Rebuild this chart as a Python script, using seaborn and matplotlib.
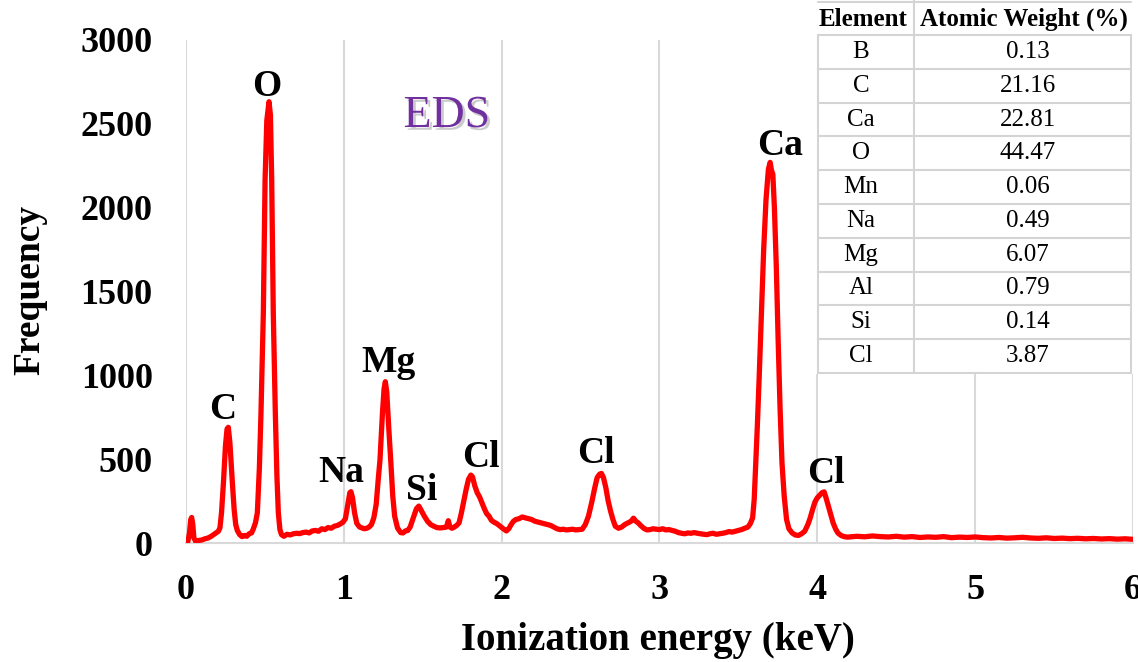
import numpy as np
import pandas as pd
import matplotlib
matplotlib.use("Agg")
import matplotlib.pyplot as plt
import matplotlib.patheffects as pe
import seaborn as sns

# ---------------- data ----------------
energy_kev = [
    0.000, 0.012, 0.022, 0.030, 0.036, 0.043, 0.050, 0.060, 0.080, 0.100,
    0.120, 0.140, 0.160, 0.175, 0.190, 0.205, 0.215, 0.225, 0.237, 0.250,
    0.260, 0.268, 0.278, 0.294, 0.305, 0.315, 0.325, 0.340, 0.355, 0.370,
    0.385, 0.400, 0.415, 0.425, 0.440, 0.452, 0.465, 0.475, 0.490, 0.501,
    0.512, 0.526, 0.535, 0.543, 0.553, 0.566, 0.576, 0.585, 0.595, 0.605,
    0.620, 0.640, 0.660, 0.680, 0.700, 0.720, 0.740, 0.760, 0.780, 0.800,
    0.820, 0.840, 0.860, 0.880, 0.900, 0.920, 0.940, 0.960, 0.980, 0.995,
    1.010, 1.025, 1.038, 1.045, 1.055, 1.068, 1.082, 1.100, 1.115, 1.130,
    1.145, 1.160, 1.175, 1.190, 1.205, 1.218, 1.229, 1.245, 1.255, 1.263,
    1.272, 1.285, 1.297, 1.310, 1.322, 1.340, 1.360, 1.375, 1.390, 1.405,
    1.420, 1.440, 1.460, 1.475, 1.490, 1.510, 1.530, 1.550, 1.570, 1.590,
    1.610, 1.630, 1.650, 1.662, 1.672, 1.685, 1.700, 1.715, 1.730, 1.745,
    1.760, 1.775, 1.790, 1.805, 1.815, 1.830, 1.845, 1.860, 1.875, 1.890,
    1.905, 1.920, 1.935, 1.950, 1.970, 1.990, 2.010, 2.030, 2.045, 2.060,
    2.075, 2.090, 2.110, 2.130, 2.150, 2.170, 2.190, 2.210, 2.230, 2.250,
    2.270, 2.290, 2.310, 2.330, 2.350, 2.370, 2.390, 2.410, 2.430, 2.450,
    2.470, 2.490, 2.510, 2.530, 2.550, 2.570, 2.590, 2.605, 2.620, 2.632,
    2.645, 2.660, 2.675, 2.690, 2.705, 2.720, 2.740, 2.760, 2.780, 2.800,
    2.820, 2.835, 2.850, 2.865, 2.880, 2.900, 2.920, 2.940, 2.960, 2.980,
    3.000, 3.020, 3.040, 3.060, 3.080, 3.100, 3.120, 3.140, 3.160, 3.180,
    3.200, 3.220, 3.240, 3.260, 3.280, 3.300, 3.320, 3.340, 3.360, 3.380,
    3.400, 3.420, 3.440, 3.460, 3.480, 3.500, 3.520, 3.540, 3.560, 3.575,
    3.590, 3.600, 3.610, 3.620, 3.632, 3.645, 3.660, 3.675, 3.690, 3.701,
    3.710, 3.718, 3.728, 3.740, 3.752, 3.764, 3.776, 3.790, 3.805, 3.820,
    3.840, 3.860, 3.880, 3.900, 3.920, 3.940, 3.955, 3.970, 3.985, 4.000,
    4.015, 4.030, 4.043, 4.055, 4.070, 4.085, 4.100, 4.115, 4.130, 4.150,
    4.170, 4.190, 4.250, 4.300, 4.350, 4.400, 4.450, 4.500, 4.550, 4.600,
    4.650, 4.700, 4.750, 4.800, 4.850, 4.900, 4.950, 5.000, 5.050, 5.100,
    5.150, 5.200, 5.250, 5.300, 5.350, 5.400, 5.450, 5.500, 5.550, 5.600,
    5.650, 5.700, 5.750, 5.800, 5.850, 5.900, 5.950, 6.000,
]
frequency = [
    5, 10, 60, 140, 152, 110, 30, 12, 15, 18,
    25, 30, 40, 50, 60, 70, 90, 180, 356, 580,
    680, 690, 600, 356, 200, 110, 75, 50, 38, 45,
    40, 55, 60, 80, 120, 180, 450, 773, 1371, 2165,
    2520, 2632, 2550, 2165, 1371, 773, 400, 180, 80, 50,
    40, 52, 48, 55, 58, 56, 62, 65, 60, 72,
    75, 70, 85, 80, 92, 88, 100, 105, 115, 125,
    145, 230, 300, 306, 270, 180, 117, 95, 90, 85,
    88, 95, 110, 150, 230, 380, 495, 780, 920, 962,
    900, 680, 495, 280, 160, 90, 62, 60, 72, 75,
    95, 150, 205, 220, 195, 160, 130, 110, 100, 92,
    90, 92, 95, 133, 95, 88, 95, 105, 120, 180,
    250, 320, 380, 405, 395, 340, 300, 275, 240, 205,
    175, 160, 135, 125, 115, 100, 85, 72, 85, 110,
    130, 140, 145, 155, 150, 145, 140, 130, 125, 120,
    115, 110, 105, 95, 85, 80, 82, 78, 80, 82,
    78, 80, 82, 110, 160, 240, 330, 390, 410, 415,
    390, 330, 250, 190, 140, 100, 88, 95, 110, 120,
    130, 148, 130, 120, 105, 88, 78, 80, 85, 82,
    80, 85, 78, 80, 75, 70, 62, 58, 55, 60,
    58, 62, 58, 55, 52, 50, 55, 58, 52, 55,
    58, 62, 68, 65, 70, 75, 80, 88, 95, 115,
    150, 260, 480, 700, 1000, 1350, 1750, 2050, 2230, 2270,
    2220, 2200, 2000, 1650, 1200, 800, 480, 280, 140, 85,
    60, 48, 45, 55, 70, 110, 150, 200, 245, 270,
    285, 300, 305, 270, 220, 170, 120, 85, 60, 45,
    38, 35, 40, 37, 42, 38, 36, 40, 35, 38,
    33, 36, 34, 38, 32, 35, 33, 36, 32, 30,
    33, 29, 31, 34, 30, 28, 31, 27, 29, 26,
    28, 25, 27, 24, 26, 23, 25, 22,
]

peak_labels = ["C", "O", "Na", "Mg", "Si", "Cl", "Cl", "Ca", "Cl"]
peak_label_x = [0.234, 0.513, 0.982, 1.280, 1.496, 1.869, 2.598, 3.764, 4.056]
peak_label_y = [739, 2665, 364, 1020, 256, 453, 477, 2314, 358]

x_ticks = [0, 1, 2, 3, 4, 5, 6]
y_ticks = [0, 500, 1000, 1500, 2000, 2500, 3000]

table_elements = ["B", "C", "Ca", "O", "Mn", "Na", "Mg", "Al", "Si", "Cl"]
table_weights = ["0.13", "21.16", "22.81", "44.47", "0.06", "0.49", "6.07", "0.79", "0.14", "3.87"]

# ---------------- figure ----------------
sns.set_theme(style="white")
plt.rcParams["font.family"] = ["Liberation Serif", "DejaVu Serif"]

W, H = 1138, 662
fig = plt.figure(figsize=(W / 100, H / 100), dpi=100)
ax = fig.add_axes([186 / W, 1 - 543 / H, (1133 - 186) / W, (543 - 40) / H])

df = pd.DataFrame({"energy": energy_kev, "frequency": frequency})
sns.lineplot(data=df, x="energy", y="frequency", color="#FF0000", linewidth=3.8,
             ax=ax, zorder=3)

ax.set_xlim(0, 6)
ax.set_ylim(0, 3000)
ax.set_xticks(x_ticks)
ax.set_yticks(y_ticks)
ax.set_xticklabels([str(t) for t in x_ticks])
ax.set_yticklabels([str(t) for t in y_ticks])
for lab in ax.get_xticklabels() + ax.get_yticklabels():
    lab.set_fontweight("bold")
    lab.set_fontsize(26)
    lab.set_color("black")
ax.tick_params(axis="both", length=0)
ax.tick_params(axis="x", pad=22)
ax.tick_params(axis="y", pad=24)
ax.grid(axis="x", color="#d9d9d9", linewidth=1.5, zorder=0)
ax.grid(axis="y", visible=False)
for s in ["top", "left", "right"]:
    ax.spines[s].set_visible(False)
ax.spines["bottom"].set_color("#d9d9d9")
ax.spines["bottom"].set_linewidth(1.5)
ax.set_facecolor("white")

ax.set_xlabel("Ionization energy (keV)", fontsize=28, fontweight="bold", color="black")
ax.set_ylabel("Frequency", fontsize=27, fontweight="bold", color="black")
ax.xaxis.set_label_coords(0.498, -0.193)
ax.xaxis.label.set_va("center")
ax.yaxis.set_label_coords(-0.1647, 0.503)
ax.yaxis.label.set_va("center")

for name, px, py in zip(peak_labels, peak_label_x, peak_label_y):
    ax.text(px, py, name, ha="center", va="baseline", fontsize=27,
            fontweight="bold", color="black", zorder=4)

ax.text(1.654, 2481, "EDS", ha="center", va="baseline", fontsize=33,
        color="#7030A0", zorder=4,
        path_effects=[pe.withSimplePatchShadow(offset=(2, -2), shadow_rgbFace="#999999", alpha=0.5)])

# ---------------- table overlay ----------------
tx0, tx1, ty1 = 815, 1138, 374
tax = fig.add_axes([tx0 / W, 1 - ty1 / H, (tx1 - tx0) / W, ty1 / H])
tax.set_xlim(tx0, tx1)
tax.set_ylim(ty1, 0)
tax.axis("off")
tax.add_patch(plt.Rectangle((tx0, 0), tx1 - tx0, ty1, facecolor="white",
                            edgecolor="none", zorder=0))
lc = "#d4d4d4"
lw = 1.5
left, mid, right = 818, 914, 1131
header_bottom = 35
row_h = 33.8
tax.plot([left, right], [2, 2], color=lc, lw=lw)
tax.plot([left, right], [header_bottom, header_bottom], color=lc, lw=lw)
n = len(table_elements)
for i in range(1, n + 1):
    yy = header_bottom + i * row_h
    tax.plot([left, right], [yy, yy], color=lc, lw=lw)
bottom = header_bottom + n * row_h
tax.plot([mid, mid], [0, bottom], color=lc, lw=lw)
tax.plot([left, left], [header_bottom, bottom], color=lc, lw=lw)
tax.plot([right, right], [header_bottom, bottom], color=lc, lw=lw)

tax.text(863, 19, "Element", ha="center", va="center", fontsize=18, fontweight="bold", color="black")
tax.text(1024, 19, "Atomic Weight (%)", ha="center", va="center", fontsize=18,
         fontweight="bold", color="black")
for i, (el, wt) in enumerate(zip(table_elements, table_weights)):
    yc = header_bottom + (i + 0.5) * row_h
    tax.text(861, yc, el, ha="center", va="center", fontsize=18, color="black")
    tax.text(1028, yc, wt, ha="center", va="center", fontsize=18, color="black")

fig.savefig("out.png", dpi=100, facecolor="white")
